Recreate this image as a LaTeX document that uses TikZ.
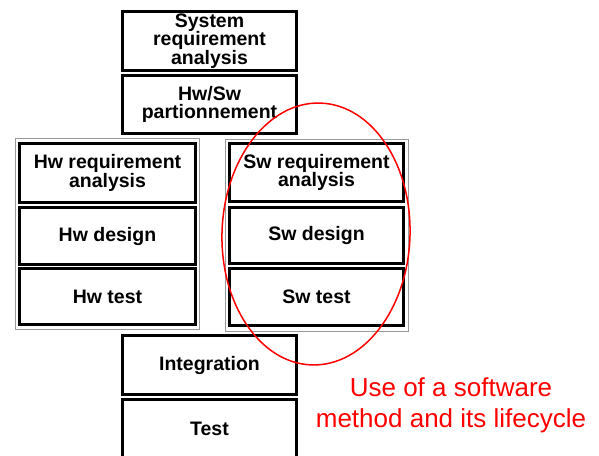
\documentclass[tikz,border=0pt]{standalone}
\usepackage{fontspec}
\setmainfont{Liberation Sans}
\usetikzlibrary{shapes.geometric}
\begin{document}
\begin{tikzpicture}[x=1pt,y=-1pt,
  stage/.style={draw=black, line width=2.5pt, fill=white, inner sep=0pt,
    align=center, font=\bfseries\fontsize{19.5}{18.5}\selectfont},
  group/.style={draw=black!40, line width=1pt, inner sep=0pt},
  note/.style={text=red, align=center, font=\fontsize{26}{31}\selectfont}]
\useasboundingbox[fill=white] (0,0) rectangle (599,455);
\clip (0,0) rectangle (599,455);
% hardware and software branches
\node[group, minimum width=184pt, minimum height=191pt] (hwgrp) at (107,233.5) {};
\node[group, minimum width=183pt, minimum height=192pt] (swgrp) at (316.5,235) {};
% system level stages
\node[stage, minimum width=174pt, minimum height=59pt] (sys) at (209.5,41) {System\\requirement\\analysis};
\node[stage, minimum width=174pt, minimum height=58pt] (part) at (209.5,104.5) {Hw/Sw\\partionnement};
% hardware stages
\node[stage, minimum width=176pt, minimum height=59pt] (hwreq) at (107.5,173) {Hw requirement\\analysis};
\node[stage, minimum width=176pt, minimum height=57pt] (hwdes) at (107.5,236) {Hw design};
\node[stage, minimum width=176pt, minimum height=56pt] (hwtest) at (107.5,296.5) {Hw test};
% software stages
\node[stage, minimum width=174pt, minimum height=58pt] (swreq) at (316.5,172.5) {Sw requirement\\analysis};
\node[stage, minimum width=174pt, minimum height=56pt] (swdes) at (316.5,235.5) {Sw design};
\node[stage, minimum width=174pt, minimum height=57pt] (swtest) at (316.5,297) {Sw test};
% integration stages
\node[stage, minimum width=174pt, minimum height=59pt] (integ) at (209.5,365) {Integration};
\node[stage, minimum width=174pt, minimum height=59pt] (test) at (209.5,429) {Test};
% highlight of the software branch
\node[ellipse, draw=red, line width=1.5pt, inner sep=0pt, minimum width=188pt,
  minimum height=262pt, rotate=-2] (oval) at (316,234) {};
\node[note] (caption) at (451,405) {Use of a software\\method and its lifecycle};
\end{tikzpicture}
\end{document}
